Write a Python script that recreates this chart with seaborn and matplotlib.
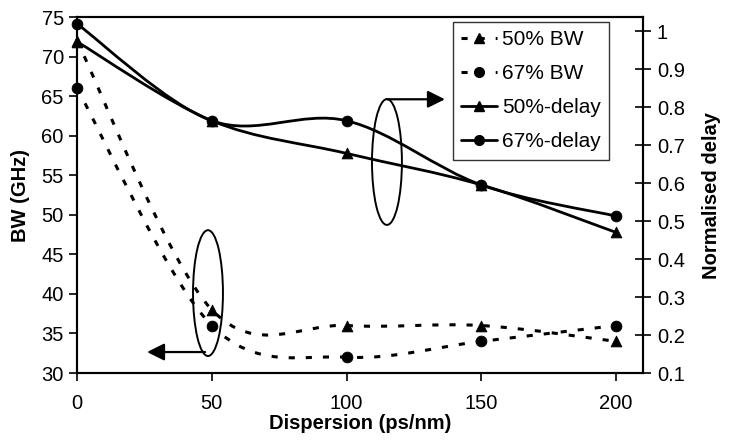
import numpy as np
import pandas as pd
import seaborn as sns
import matplotlib
matplotlib.use("Agg")
import matplotlib.pyplot as plt
from matplotlib.path import Path
from matplotlib.patches import PathPatch, Ellipse
from matplotlib.lines import Line2D

# ---- data ----
dispersion = [0, 50, 100, 150, 200]
bw_50 = [72, 38, 36, 36, 34]
bw_67 = [66, 36, 32, 34, 36]
delay_50 = [0.972, 0.764, 0.678, 0.595, 0.470]
delay_67 = [1.019, 0.764, 0.764, 0.595, 0.513]
left_ticks = [30, 35, 40, 45, 50, 55, 60, 65, 70, 75]
right_ticks = [0.1, 0.2, 0.3, 0.4, 0.5, 0.6, 0.7, 0.8, 0.9, 1.0]
right_labels = ["0.1", "0.2", "0.3", "0.4", "0.5", "0.6", "0.7", "0.8", "0.9", "1"]
x_ticks = [0, 50, 100, 150, 200]

sns.set_style("ticks")
plt.rcParams['font.family'] = ['Liberation Sans', 'DejaVu Sans']
for k in ['text.color', 'axes.labelcolor', 'xtick.color', 'ytick.color',
          'xtick.labelcolor', 'ytick.labelcolor', 'axes.edgecolor']:
    plt.rcParams[k] = 'black'

fig = plt.figure(figsize=(7.29, 4.40), dpi=100)
ax = fig.add_axes([77/729, 1-373/440, (643-77)/729, (373-17)/440])
ax2 = ax.twinx()


def smooth_path(xs, ys):
    """Excel-like smoothed line: cubic Bezier through the data points."""
    p = np.column_stack([xs, ys]).astype(float)
    n = len(p)
    verts = [p[0]]
    codes = [Path.MOVETO]
    for i in range(n - 1):
        pm = p[i - 1] if i > 0 else p[i]
        p2 = p[i + 2] if i + 2 < n else p[i + 1]
        c1 = p[i] + (p[i + 1] - pm) / 6.0
        c2 = p[i + 1] - (p2 - p[i]) / 6.0
        verts += [c1, c2, p[i + 1]]
        codes += [Path.CURVE4] * 3
    return Path(verts, codes)


dash = (0, (2.0, 3.6))
lw_d = 2.2
lw_s = 2.0

for a, ys, ls, lw in [(ax, bw_50, dash, lw_d), (ax, bw_67, dash, lw_d),
                      (ax2, delay_50, '-', lw_s), (ax2, delay_67, '-', lw_s)]:
    a.add_patch(PathPatch(smooth_path(dispersion, ys), facecolor='none',
                          edgecolor='black', lw=lw, linestyle=ls,
                          capstyle='butt', zorder=3))

df = pd.DataFrame({'x': dispersion, 'bw50': bw_50, 'bw67': bw_67,
                   'd50': delay_50, 'd67': delay_67})
ms = 60
sns.scatterplot(data=df, x='x', y='bw50', marker='^', color='black', s=ms,
                edgecolor='black', ax=ax, zorder=4, clip_on=False)
sns.scatterplot(data=df, x='x', y='bw67', marker='o', color='black', s=ms,
                edgecolor='black', ax=ax, zorder=4, clip_on=False)
sns.scatterplot(data=df, x='x', y='d50', marker='^', color='black', s=ms,
                edgecolor='black', ax=ax2, zorder=4, clip_on=False)
sns.scatterplot(data=df, x='x', y='d67', marker='o', color='black', s=ms,
                edgecolor='black', ax=ax2, zorder=4, clip_on=False)

ax.set_xlim(0, 210)
ax.set_ylim(30, 75)
ax2.set_ylim(0.1, 1.037)

ax.set_xticks(x_ticks)
ax.set_yticks(left_ticks)
ax2.set_yticks(right_ticks)
ax2.set_yticklabels(right_labels)

fs = 14.5
ax.tick_params(axis='both', labelsize=fs, direction='out', length=6, width=1.2, colors='black')
ax.tick_params(axis='x', pad=9)
ax2.tick_params(axis='y', labelsize=fs, direction='inout', length=12, width=1.2, pad=4, colors='black')

ax.set_xlabel("Dispersion (ps/nm)", fontsize=fs, fontweight='bold', labelpad=1, color='black')
ax.set_ylabel("BW (GHz)", fontsize=fs, fontweight='bold', labelpad=8, color='black')
ax2.set_ylabel("Normalised delay", fontsize=fs, fontweight='bold', labelpad=12, color='black')

for a in (ax, ax2):
    for s in a.spines.values():
        s.set_linewidth(1.5)
        s.set_color('black')
        s.set_visible(True)

# annotations: ellipses and arrows
ax.add_patch(Ellipse((115, 56.67), 11.1, 15.9, facecolor='none', edgecolor='black', lw=1.4, zorder=5))
ax.annotate('', xy=(136.5, 64.6), xytext=(115, 64.6),
            arrowprops=dict(arrowstyle='-|>', color='black', lw=1.6, mutation_scale=26,
                            shrinkA=0, shrinkB=0), zorder=5)
ax.add_patch(Ellipse((48.6, 40.1), 11.1, 15.9, facecolor='none', edgecolor='black', lw=1.4, zorder=5))
ax.annotate('', xy=(26.0, 32.65), xytext=(47.5, 32.65),
            arrowprops=dict(arrowstyle='-|>', color='black', lw=1.6, mutation_scale=26,
                            shrinkA=0, shrinkB=0), zorder=5)

handles = [
    Line2D([], [], color='black', lw=lw_d, linestyle=dash, marker='^', markersize=7),
    Line2D([], [], color='black', lw=lw_d, linestyle=dash, marker='o', markersize=7),
    Line2D([], [], color='black', lw=lw_s, linestyle='-', marker='^', markersize=7),
    Line2D([], [], color='black', lw=lw_s, linestyle='-', marker='o', markersize=7),
]
labels = ["50% BW", "67% BW", "50%-delay", "67%-delay"]
leg = ax2.legend(handles, labels, loc='upper right', bbox_to_anchor=(0.94, 0.986),
                 fontsize=15, frameon=True, fancybox=False, edgecolor='black',
                 handlelength=1.7, handletextpad=0.25, labelspacing=0.72,
                 borderpad=0.4, borderaxespad=0)
leg.get_frame().set_linewidth(1.0)
leg.set_zorder(10)
for t in leg.get_texts():
    t.set_color('black')

fig.savefig("out.png", dpi=100)
